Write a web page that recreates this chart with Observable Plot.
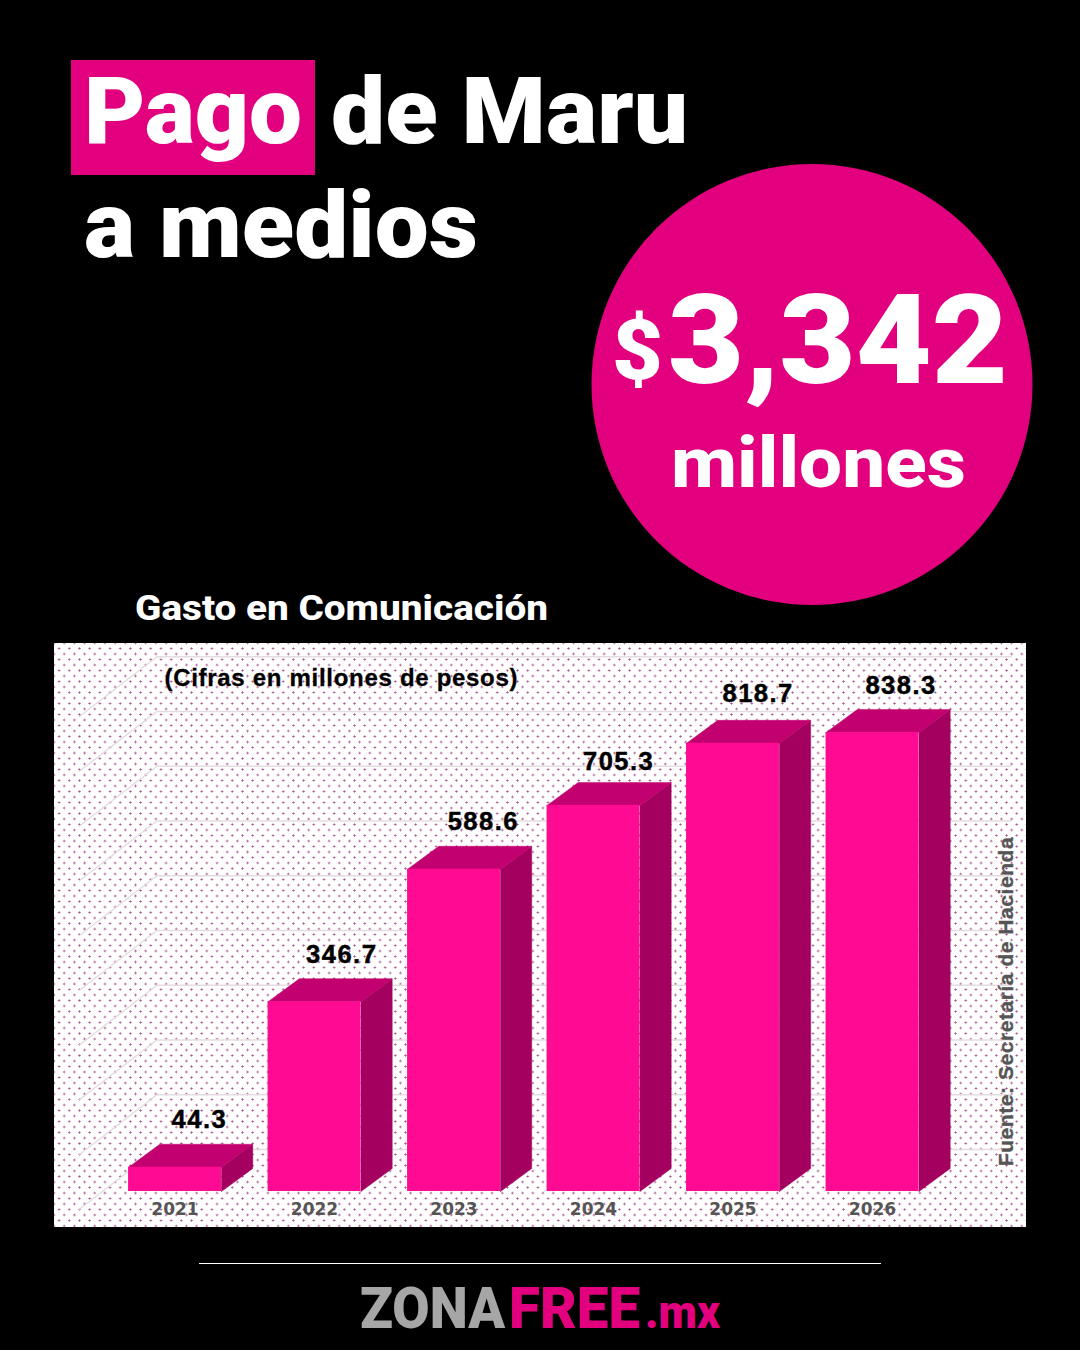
<!DOCTYPE html>
<html lang="es">
<head>
<meta charset="utf-8">
<script src="https://cdn.jsdelivr.net/npm/d3@7"></script>
<script src="https://cdn.jsdelivr.net/npm/@observablehq/plot@0.6"></script>
<style>
html,body{margin:0;padding:0;background:#000;}
#page{position:relative;width:1080px;height:1350px;overflow:hidden;background:#000;}
#deco{position:absolute;left:0;top:0;}
#panel{position:absolute;left:54px;top:643px;width:972px;height:584px;
  background-color:#fff;
  background-image:radial-gradient(circle,#a8508a 0.8px,rgba(168,80,138,0) 1.3px),radial-gradient(circle,#a8508a 0.8px,rgba(168,80,138,0) 1.3px);
  background-size:10.2px 11px;background-position:0 0,5.1px 5.5px;}
#panel svg{display:block;background:transparent;}
.val text{letter-spacing:1.5px;stroke:#000;stroke-width:.45px;}
.note text{letter-spacing:.7px;stroke:#000;stroke-width:.3px;}
.src text{letter-spacing:.55px;stroke:#555;stroke-width:.35px;}
</style>
</head>
<body>
<div id="page">
<svg id="deco" width="1080" height="1350" font-family="Roboto, 'Liberation Sans', sans-serif" font-weight="900" fill="#fff">
  <rect x="71" y="60" width="244" height="115" fill="#e2007e"/>
  <circle cx="812" cy="384.5" r="220.5" fill="#e2007e"/>
  <text x="84" y="143" font-size="93" textLength="218" lengthAdjust="spacingAndGlyphs">Pago</text>
  <text x="331" y="143" font-size="93" textLength="357" lengthAdjust="spacingAndGlyphs">de Maru</text>
  <text x="84" y="257" font-size="93" textLength="394" lengthAdjust="spacingAndGlyphs">a medios</text>
  <text x="612" y="379" font-size="84" textLength="51" lengthAdjust="spacingAndGlyphs">$</text>
  <text x="668" y="383" font-size="124" textLength="340" lengthAdjust="spacingAndGlyphs">3,342</text>
  <text x="671" y="487" font-size="71" font-weight="800" textLength="295" lengthAdjust="spacingAndGlyphs">millones</text>
  <text x="135" y="620" font-size="35" font-weight="800" textLength="413" lengthAdjust="spacingAndGlyphs">Gasto en Comunicación</text>
  <line x1="199" x2="881" y1="1263.5" y2="1263.5" stroke="#fff" stroke-width="1"/>
  <text x="360" y="1328" font-size="58" font-weight="900" fill="#a6a6a6" textLength="145" lengthAdjust="spacingAndGlyphs">ZONA</text>
  <text x="509" y="1328" font-size="58" font-weight="900" fill="#e2007e" textLength="131" lengthAdjust="spacingAndGlyphs">FREE</text>
  <text x="645" y="1328" font-size="47" font-weight="900" fill="#e2007e" textLength="75" lengthAdjust="spacingAndGlyphs">.mx</text>
</svg>
<div id="panel"></div>
</div>
<script>
const years = [2021, 2022, 2023, 2024, 2025, 2026];
const values = [44.3, 346.7, 588.6, 705.3, 818.7, 838.3];
const valueLabels = ["44.3", "346.7", "588.6", "705.3", "818.7", "838.3"];
const gridLevels = [0, 100, 200, 300, 400, 500, 600, 700, 800, 900];

// perspective geometry, in data units
const halfBar = 0.333, depthX = 0.224, depthY = 42;
const gridBase = 76.7, gridLeft = 2020.87, gridRight = 2027.0, gridDX = 0.56, gridDY = 110;

const bars = years.map((year, i) => ({year, value: values[i], label: valueLabels[i]}));
const poly = (pts, id) => pts.map(([x, y]) => ({x, y, id}));
const topFaces = bars.flatMap(d => poly([
  [d.year - halfBar, d.value], [d.year + halfBar, d.value],
  [d.year + halfBar + depthX, d.value + depthY], [d.year - halfBar + depthX, d.value + depthY],
  [d.year - halfBar, d.value]], d.year));
const sideFaces = bars.flatMap(d => poly([
  [d.year + halfBar, 0], [d.year + halfBar, d.value],
  [d.year + halfBar + depthX, d.value + depthY], [d.year + halfBar + depthX, depthY],
  [d.year + halfBar, 0]], d.year));
const labelShift = [0.175, 0.195, 0.21, 0.18, 0.18, 0.205];
const labelLift = [-24, -24, -24, -21, -26, -24];

const plot = Plot.plot({
  width: 972, height: 584,
  marginLeft: 0, marginRight: 0, marginTop: 0, marginBottom: 36,
  style: {background: "transparent"},
  x: {domain: [2020.136, 2027.104]},
  y: {domain: [0, 1001], axis: null},
  marks: [
    Plot.ruleY(gridLevels, {y: d => d + gridBase, x1: gridLeft, x2: gridRight, stroke: "#e4dce1", strokeWidth: 1.4}),
    Plot.link(gridLevels, {x1: gridLeft, y1: d => d + gridBase, x2: gridLeft - gridDX, y2: d => d + gridBase - gridDY, stroke: "#e4dce1", strokeWidth: 1.4}),
    Plot.line(sideFaces, {x: "x", y: "y", z: "id", fill: "#a30060", stroke: "#a30060", strokeWidth: 0.5}),
    Plot.line(topFaces, {x: "x", y: "y", z: "id", fill: "#c2006f", stroke: "#c2006f", strokeWidth: 0.5}),
    Plot.rectY(bars, {x1: d => d.year - halfBar, x2: d => d.year + halfBar, y1: 0, y2: "value", fill: "#ff0a93"}),
    ...bars.map((d, i) => Plot.text([d], {x: d.year + labelShift[i], y: d.value + depthY, text: "label", dy: labelLift[i],
      fontFamily: "'Liberation Sans', Arial, sans-serif", fontWeight: 700, fontSize: 25.5, fill: "#000", className: "val"})),
    Plot.axisX({ticks: years, tickFormat: "d", tickSize: 0, tickPadding: 11, label: null,
      fontFamily: "'DejaVu Sans', sans-serif", fontWeight: 700, fontSize: 17, fill: "#555"}),
    Plot.text(["(Cifras en millones de pesos)"], {frameAnchor: "top-left", dx: 110, dy: 35, text: d => d,
      lineAnchor: "middle", fontFamily: "'Liberation Sans', Arial, sans-serif", fontWeight: 700, fontSize: 24, fill: "#000", className: "note"}),
    Plot.text(["Fuente: Secretaría de Hacienda"], {frameAnchor: "top-right", dx: -20, dy: 358, text: d => d, rotate: -90,
      textAnchor: "middle", lineAnchor: "middle", fontFamily: "'Liberation Sans', Arial, sans-serif", fontWeight: 700, fontSize: 21, fill: "#555", className: "src"})
  ]
});
document.getElementById("panel").append(plot);
</script>
</body>
</html>
